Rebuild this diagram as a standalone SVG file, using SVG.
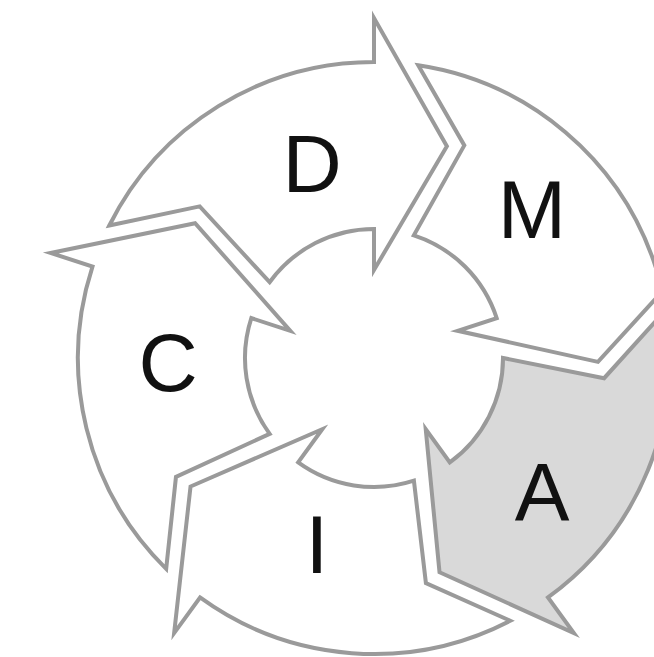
<svg xmlns="http://www.w3.org/2000/svg" xmlns:xlink="http://www.w3.org/1999/xlink" width="654" height="657" viewBox="0 0 654 657">
  <style>
    .seg { stroke: #9a9a9a; stroke-width: 4; stroke-linejoin: miter; stroke-miterlimit: 12; }
    .white { fill: #ffffff; }
    .gray { fill: #d9d9d9; }
    .lbl { font-family: "Liberation Sans", Arial, sans-serif; font-size: 82px; fill: #111111; text-anchor: middle; }
  </style>
  <defs>
    <path id="arrow" d="M -264.7,-132.5 L -174.3,-151.6 L -104.4,-75.8 A 129 129 0 0 1 0,-129 L 0,-88 L 72.9,-211.8 L 0,-340 L 0,-296 A 296 296 0 0 0 -264.7,-132.5 Z"/>
  </defs>
  <rect width="654" height="657" fill="#ffffff"/>
  <g transform="translate(374,358)">
    <g id="node-D"><use xlink:href="#arrow" href="#arrow" class="seg white" transform="rotate(0)"/></g>
    <g id="node-M"><use xlink:href="#arrow" href="#arrow" class="seg white" transform="rotate(72)"/></g>
    <g id="node-A"><use xlink:href="#arrow" href="#arrow" class="seg gray" transform="rotate(144)"/></g>
    <g id="node-I"><use xlink:href="#arrow" href="#arrow" class="seg white" transform="rotate(216)"/></g>
    <g id="node-C"><use xlink:href="#arrow" href="#arrow" class="seg white" transform="rotate(288)"/></g>
  </g>
  <g id="labels">
    <text class="lbl" x="312" y="192">D</text>
    <text class="lbl" x="532" y="238">M</text>
    <text class="lbl" x="542" y="520">A</text>
    <text class="lbl" x="317" y="573">I</text>
    <text class="lbl" x="168" y="391">C</text>
  </g>
  <g id="connectors"></g>
</svg>
